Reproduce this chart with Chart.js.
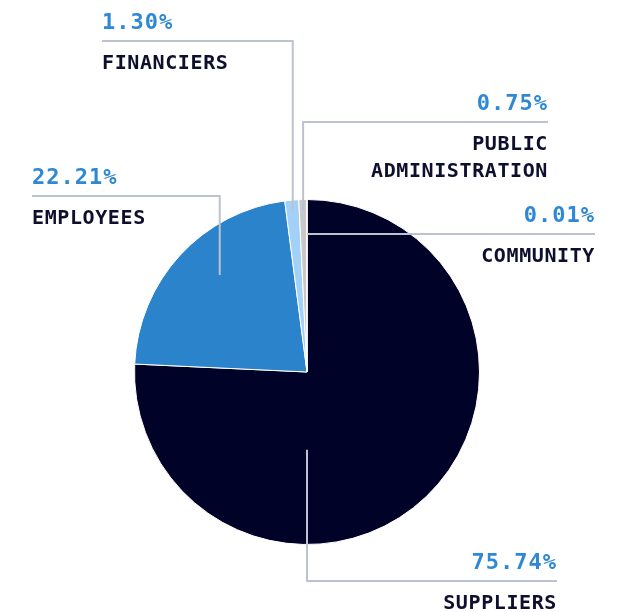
<!DOCTYPE html>
<html>
<head>
<meta charset="utf-8">
<script src="https://cdn.jsdelivr.net/npm/chart.js@4.4.1/dist/chart.umd.min.js"></script>
<style>
  html, body { margin: 0; padding: 0; background: #fff; }
  #wrap { width: 627px; height: 612px; }
</style>
</head>
<body>
<div id="wrap"><canvas id="chart-pie" width="627" height="612"></canvas></div>
<script>
// datos del gráfico
const categories = ["SUPPLIERS", "EMPLOYEES", "FINANCIERS", ["PUBLIC", "ADMINISTRATION"], "COMMUNITY"];
const values = [75.74, 22.21, 1.30, 0.75, 0.01];
const colors = ["#000228", "#2a83cb", "#a3d0f7", "#c8c8c8", "#9a9a9a"];

// posicion de las etiquetas (linea guia + texto)
const labelLayout = [
  { lineY: 581, endX: 557, align: "right", angle: Math.PI / 2, frac: 0.45 },
  { lineY: 196, endX: 32, align: "left", angle: (228 * Math.PI) / 180, frac: 0.756 },
  { lineY: 41, endX: 102, align: "left", frac: 0.936 },
  { lineY: 122, endX: 548, align: "right", frac: 0.936 },
  { lineY: 234, endX: 595, align: "right", frac: 0.8 },
];

const leaderLabels = {
  id: "leaderLabels",
  afterDatasetsDraw(chart) {
    const ctx = chart.ctx;
    const meta = chart.getDatasetMeta(0);
    ctx.save();
    meta.data.forEach((arc, i) => {
      const lay = labelLayout[i];
      const p = arc.getProps(["x", "y", "startAngle", "endAngle", "outerRadius"], true);
      const a = lay.angle !== undefined ? lay.angle : (p.startAngle + p.endAngle) / 2;
      const ax = p.x + Math.cos(a) * p.outerRadius * lay.frac;
      const ay = p.y + Math.sin(a) * p.outerRadius * lay.frac;
      // linea guia
      ctx.strokeStyle = "#bcc2cf";
      ctx.lineWidth = 2;
      ctx.beginPath();
      ctx.moveTo(ax, ay);
      ctx.lineTo(ax, lay.lineY);
      ctx.lineTo(lay.endX, lay.lineY);
      ctx.stroke();
      // porcentaje
      ctx.textAlign = lay.align;
      ctx.textBaseline = "alphabetic";
      ctx.fillStyle = "#2e88d4";
      ctx.font = "bold 22px 'DejaVu Sans Mono'";
      ctx.letterSpacing = "1px";
      ctx.fillText(values[i].toFixed(2) + "%", lay.endX, lay.lineY - 12);
      // nombre
      ctx.fillStyle = "#0e0f2c";
      ctx.font = "bold 20px 'DejaVu Sans Mono'";
      ctx.letterSpacing = "0.6px";
      const lines = Array.isArray(categories[i]) ? categories[i] : [categories[i]];
      lines.forEach((t, k) => {
        ctx.fillText(t, lay.endX, lay.lineY + 28 + k * 27);
      });
    });
    ctx.restore();
  },
};

const ctx = document.getElementById("chart-pie").getContext("2d");
new Chart(ctx, {
  type: "pie",
  data: {
    labels: categories,
    datasets: [
      {
        data: values,
        backgroundColor: colors,
        borderColor: "#ffffff",
        borderWidth: 1,
        hoverOffset: 0,
      },
    ],
  },
  options: {
    responsive: false,
    animation: false,
    events: [],
    layout: { padding: { left: 134, right: 147, top: 199, bottom: 67 } },
    plugins: { legend: { display: false }, tooltip: { enabled: false } },
  },
  plugins: [leaderLabels],
});
</script>
</body>
</html>
